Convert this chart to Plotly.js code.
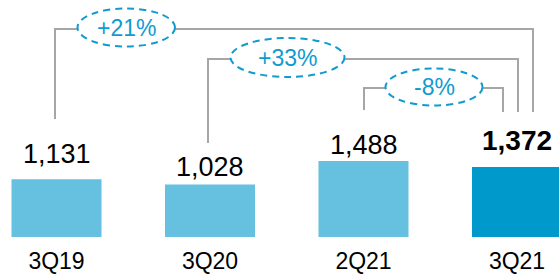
<!DOCTYPE html>
<html>
<head>
<meta charset="utf-8">
<script src="https://cdn.plot.ly/plotly-3.0.1.min.js"></script>
<style>html,body{margin:0;padding:0;background:#fff;}#chart{width:559px;height:274px;}</style>
</head>
<body>
<div id="chart"></div>
<script>
// ---- data ----
var categories = ["3Q19", "3Q20", "2Q21", "3Q21"];
var values = [1131, 1028, 1488, 1372];
var valueLabels = ["1,131", "1,028", "1,488", "1,372"];
var changeLabels = ["+21%", "+33%", "-8%"];
var changeFrom = [0, 1, 2];   // index of comparison bar
var changeTo = [3, 3, 3];     // index of target bar

// ---- styling ----
var barColors = ["#66c0e0", "#66c0e0", "#66c0e0", "#0099cc"];
var labelBold = [false, false, false, true];
var labelGap = [8, 1, -1, 9];   // extra px above bar top per label
var W = 559, H = 274, mB = 37;
var plotH = H - mB;
var pxPerUnit = 0.051;
var catStep = 153.5, firstCenter = 56.5;
var xr0 = -firstCenter / catStep;
var xr1 = xr0 + W / catStep;
var yMax = plotH / pxPerUnit;

function XP(px) { return xr0 + px / catStep; }       // pixel -> x data
function YP(py) { return (plotH - py) / pxPerUnit; }  // pixel -> y data

// connector geometry (pixels): [leftX, leftBottomY, levelY, rightX, rightBottomY, ellipse x0,x1,y0,y1]
var connectors = [
  [55, 119, 29, 533, 112, 77.5, 175, 8.5, 46.5],
  [208, 143, 59, 518, 112, 230.5, 344.5, 38, 77],
  [364, 110, 88, 503, 112, 385.5, 482.5, 68.5, 105.5]
];

var shapes = [];
var annotations = [];
var grey = "#a6a6a6", blue = "#0f9bd0";
connectors.forEach(function (c, i) {
  shapes.push({type: "path", xref: "x", yref: "y",
    path: "M" + XP(c[0]) + "," + YP(c[1]) + " L" + XP(c[0]) + "," + YP(c[2]) +
          " L" + XP(c[3]) + "," + YP(c[2]) + " L" + XP(c[3]) + "," + YP(c[4]),
    line: {color: grey, width: 2}, layer: "above"});
  shapes.push({type: "circle", xref: "x", yref: "y",
    x0: XP(c[5]), x1: XP(c[6]), y0: YP(c[8]), y1: YP(c[7]),
    fillcolor: "#ffffff", line: {color: blue, width: 2, dash: "7px,5px"}, layer: "above"});
  annotations.push({xref: "x", yref: "y", x: XP((c[5] + c[6]) / 2), y: YP((c[7] + c[8]) / 2),
    text: changeLabels[i], showarrow: false, xanchor: "center", yanchor: "middle",
    font: {family: "Liberation Sans, Arial, sans-serif", size: 23, color: blue}});
});

values.forEach(function (v, i) {
  annotations.push({xref: "x", yref: "y", x: i, y: v, yanchor: "bottom", xanchor: "center",
    yshift: labelGap[i], showarrow: false,
    text: labelBold[i] ? "<b>" + valueLabels[i] + "</b>" : valueLabels[i],
    font: {family: "Liberation Sans, Arial, sans-serif", size: labelBold[i] ? 28 : 27, color: "#000"}});
});

var trace = {
  type: "bar",
  x: [0, 1, 2, 3],
  y: values,
  width: 90 / catStep,
  marker: {color: barColors, line: {width: 0}},
  hoverinfo: "none"
};

var layout = {
  width: W, height: H,
  margin: {l: 0, r: 0, t: 0, b: mB, pad: 0},
  paper_bgcolor: "#fff", plot_bgcolor: "#fff",
  showlegend: false,
  xaxis: {range: [xr0, xr1], tickmode: "array", tickvals: [0, 1, 2, 3], ticktext: categories,
    showgrid: false, zeroline: false, showline: false, ticks: "", ticklabelstandoff: 8,
    tickfont: {family: "Liberation Sans, Arial, sans-serif", size: 23, color: "#000"}},
  yaxis: {range: [0, yMax], visible: false, showgrid: false, zeroline: false},
  shapes: shapes,
  annotations: annotations
};

Plotly.newPlot("chart", [trace], layout, {staticPlot: true, displayModeBar: false});
</script>
</body>
</html>
